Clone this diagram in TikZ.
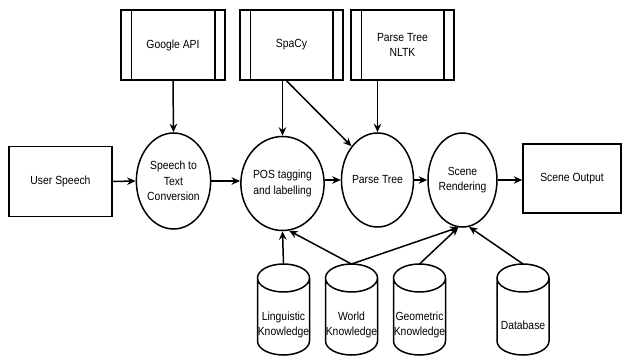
\documentclass[tikz,border=0pt]{standalone}
\usepackage{fontspec}
\setmainfont{Liberation Sans}[FakeStretch=0.88]
\usetikzlibrary{shapes.geometric,arrows.meta}

\tikzset{
  line/.style={line width=1.5pt, black},
  flow/.style={line, -{Stealth[length=8.5pt,width=7.5pt]}},
  txt/.style={font=\fontsize{11.8pt}{15.5pt}\selectfont, align=center, inner sep=0pt},
  procbox/.style={txt, draw, line, rectangle, minimum width=103pt, minimum height=70pt},
  toolbox/.style={procbox},
  stage/.style={txt, draw, line, ellipse, minimum width=69pt, minimum height=94pt},
  storetext/.style={txt},
}

\begin{document}
\begin{tikzpicture}[x=1pt, y=-1pt]
  \useasboundingbox (0,0) rectangle (622,358);

  % external tools (predefined-process boxes)
  \node[toolbox, minimum width=104pt] (google) at (173,45) {Google API};
  \node[toolbox] (spacy) at (291.5,45) {SpaCy};
  \node[toolbox] (nltk) at (402.5,45) {Parse Tree\\NLTK};
  \foreach \n in {google,spacy,nltk}{
    \draw[line] ([xshift=11pt]\n.north west) -- ([xshift=11pt]\n.south west);
    \draw[line] ([xshift=-11pt]\n.north east) -- ([xshift=-11pt]\n.south east);
  }

  % main pipeline
  \node[procbox] (user) at (60.5,181.5) {User Speech};
  \node[stage, minimum width=71pt, minimum height=96pt] (stt) at (173.5,181) {Speech to\\Text\\Conversion};
  \node[stage, minimum width=65pt, minimum height=94pt] (pos) at (282.5,183.5) {POS tagging\\and labelling};
  \node[stage] (parse) at (377.5,180) {Parse Tree};
  \node[stage] (scene) at (462.5,180) {Scene\\Rendering};
  \node[procbox, minimum width=98pt, minimum height=69pt] (output) at (572,178.5) {Scene Output};

  % knowledge stores (cylinders)
  \node[storetext] (ling)  at (283.5,325) {Linguistic\\Knowledge};
  \node[storetext] (world) at (351.5,325) {World\\Knowledge};
  \node[storetext] (geo)   at (419.5,325) {Geometric\\Knowledge};
  \node[storetext] (db)    at (523,325)   {Database};
  \foreach \n in {ling,world,geo,db}{
    \draw[line]
      ([shift={(-26pt,47pt)}]\n.center) -- ([shift={(-26pt,-16pt)}]\n.center)
      arc[start angle=180, end angle=360, x radius=26pt, y radius=14pt]
      -- ([shift={(26pt,47pt)}]\n.center)
      arc[start angle=0, end angle=180, x radius=26pt, y radius=14pt]
      arc[start angle=180, end angle=360, x radius=26pt, y radius=14pt];
    \coordinate (\n-top) at ([yshift=61pt]\n.center);
  }

  % connectors
  \draw[flow] (google.south) -- (stt.north);
  \draw[flow] (spacy.south -| pos.north) -- (pos.north);
  \draw[flow] ([xshift=-5pt]spacy.south) -- (parse.north west);
  \draw[flow] (parse.north |- nltk.south) -- (parse.north);

  \draw[flow] (user.east) -- (stt.west);
  \draw[flow] (stt.east) -- (pos.west |- stt.east);
  \draw[flow] (pos.east |- parse.west) -- (parse.west);
  \draw[flow] (parse.east) -- (scene.west);
  \draw[flow] (scene.east) -- (output.west |- scene.east);

  \draw[flow] (ling-top) -- (pos.south);
  \draw[flow] (world-top) -- (pos.-82);
  \draw[flow] (world-top) -- (scene.-95);
  \draw[flow] (geo-top) -- (scene.-95);
  \draw[flow] (db-top) -- (scene.-82);
\end{tikzpicture}
\end{document}
